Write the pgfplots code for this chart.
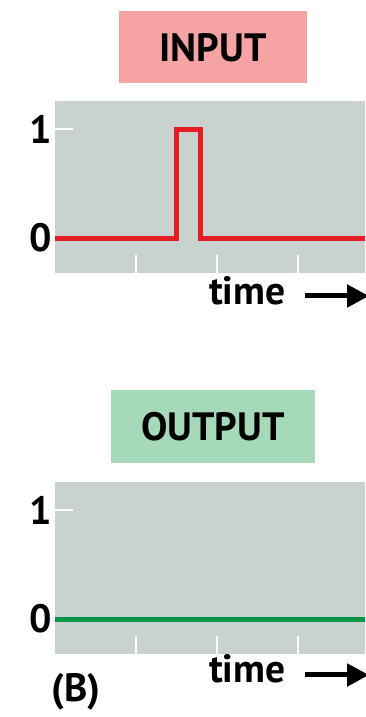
\documentclass[border=0pt]{standalone}
\usepackage{fontspec}
\setmainfont{PT Sans}
\usepackage{pgfplots}
\pgfplotsset{compat=1.18}
\usetikzlibrary{arrows.meta}

\definecolor{bggray}{RGB}{201,210,206}
\definecolor{inpink}{RGB}{245,163,163}
\definecolor{outgreen}{RGB}{166,216,186}
\definecolor{sigred}{RGB}{228,28,36}
\definecolor{siggreen}{RGB}{0,152,70}
\newcommand{\bigf}{\fontsize{39.5}{41}\selectfont\bfseries}

\pgfplotsset{panel/.style={
    scale only axis, width=310pt, height=172pt,
    anchor=south west,
    xmin=0, xmax=3.83, ymin=-0.32, ymax=1.257,
    xtick={1,2,3}, xticklabels={},
    ytick={0,1},
    tick align=inside, xtick pos=bottom, ytick pos=left,
    major tick length=18pt,
    tick style={white, line width=2pt},
    axis line style={draw=none},
    axis background/.style={fill=bggray},
    yticklabel style={font=\bigf},
    /pgf/number format/assume math mode=true,
}}

\begin{document}
\begin{tikzpicture}[x=1pt,y=1pt]
% input panel
\node[fill=inpink, minimum width=188pt, minimum height=72pt, inner sep=0pt, font=\bigf]
  at (213,669.5) {INPUT};
\begin{axis}[panel, at={(55pt,444pt)}]
\addplot[sigred, line width=5pt, line join=miter] coordinates {
  (0,0) (1.5,0) (1.5,1) (1.8,1) (1.8,0) (3.83,0)};
\end{axis}
\node[anchor=base west, font=\bigf, inner sep=0pt] at (209,412) {time};
\draw[line width=5pt, -{Triangle[length=22pt,width=22pt]}] (305,421) -- (369,421);

% output panel
\node[fill=outgreen, minimum width=204pt, minimum height=73pt, inner sep=0pt, font=\bigf]
  at (213,290.5) {OUTPUT};
\begin{axis}[panel, at={(55pt,63pt)}]
\addplot[siggreen, line width=5pt] coordinates {(0,0) (3.83,0)};
\end{axis}
\node[anchor=base west, font=\bigf, inner sep=0pt] at (209,34) {time};
\draw[line width=5pt, -{Triangle[length=22pt,width=22pt]}] (305,42) -- (369,42);
\node[anchor=base west, font=\bigf, inner sep=0pt] at (51,15) {(B)};

\pgfresetboundingbox
\path[use as bounding box] (0,0) rectangle (365,717);
\end{tikzpicture}
\end{document}
